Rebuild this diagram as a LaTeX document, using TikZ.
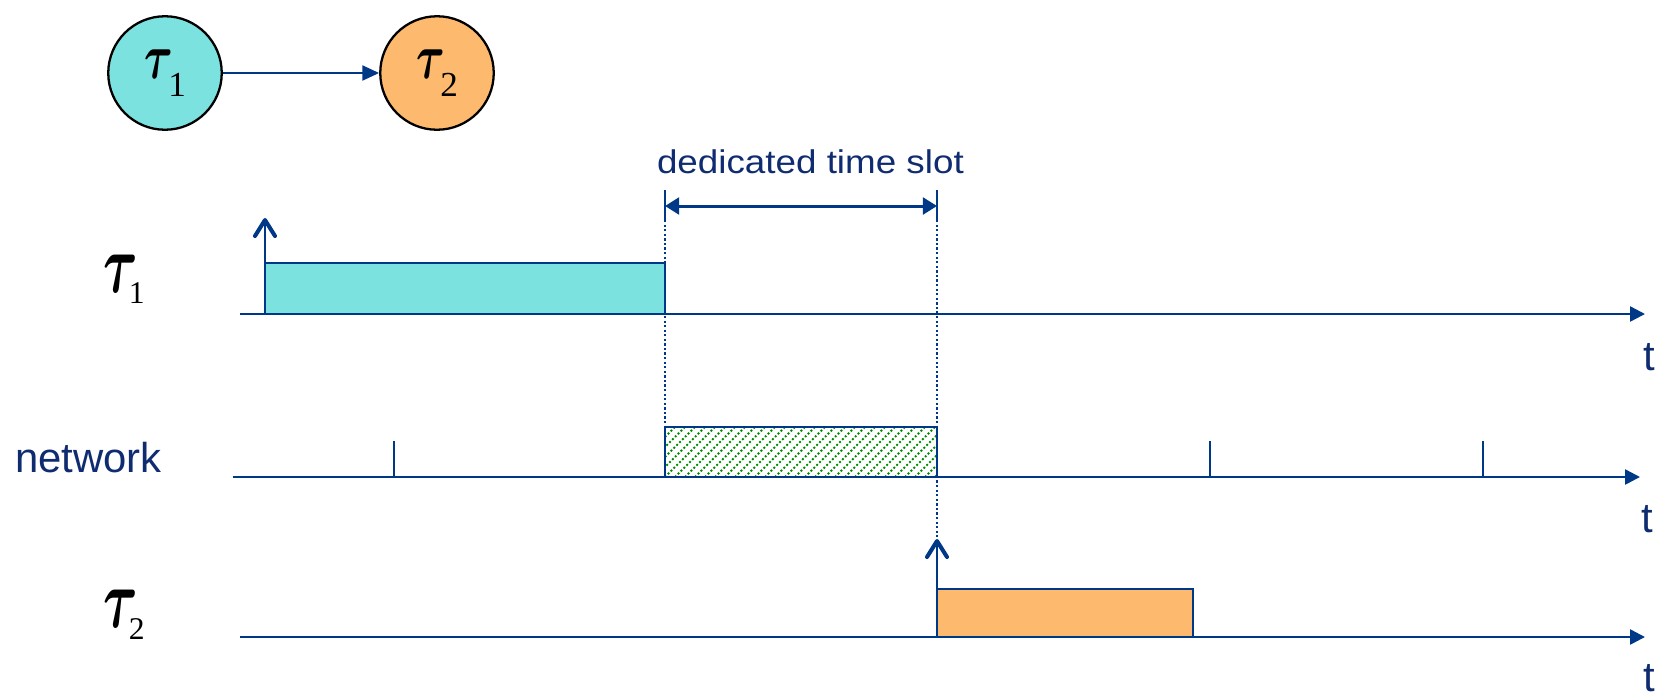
\RequirePackage{fix-cm}
\documentclass[tikz,border=0pt]{standalone}
\usepackage{amsmath}
\usepackage{graphicx}
\usepackage{fontspec}
\setmainfont{Liberation Sans}
\newfontfamily\serifT{Liberation Serif}
\newfontfamily\dedfont[FakeStretch=1.12]{Liberation Sans}
\usetikzlibrary{arrows.meta}
\definecolor{navy}{RGB}{0,56,136}
\definecolor{txtblue}{RGB}{16,44,112}
\definecolor{cyanfill}{RGB}{123,226,224}
\definecolor{orangefill}{RGB}{253,186,111}
\definecolor{hatchgreen}{RGB}{0,140,0}
% #1 index, #2 tau size, #3 sub size, #4 sub drop, #5 kern, #6 xscale, #7 yscale
\newcommand{\taulab}[7]{{\fontsize{#2}{#2}\selectfont\scalebox{#6}[#7]{$\boldsymbol{\tau}$}}\kern#5\raisebox{#4}{\serifT\fontsize{#3}{#3}\selectfont #1}}
\begin{document}
\begin{tikzpicture}[x=0.02cm, y=-0.02cm,
  axis/.style={navy, line width=1.4pt, -{Triangle[length=8.5pt,width=8.5pt]}},
  release/.style={navy, line width=1.1pt},
  releasehead/.style={navy, line width=2.3pt, line cap=round, line join=round},
  guide/.style={navy, line width=1.2pt, dash pattern=on 1.3pt off 1.3pt},
  guidesolid/.style={navy, line width=1.2pt},
  jobbox/.style={draw=navy, line width=1.6pt},
  tickmark/.style={navy, line width=1.4pt},
  hatchline/.style={hatchgreen, line width=1.1pt, dash pattern=on 1.1pt off 1.2pt},
  dimarrow/.style={navy, line width=1.7pt, {Triangle[length=8pt,width=9.5pt]}-{Triangle[length=8pt,width=9.5pt]}},
  lbl/.style={text=txtblue, inner sep=0, outer sep=0, font=\fontsize{23.8pt}{24pt}\selectfont},
  taulbl/.style={inner sep=0, outer sep=0, anchor=base west},
  taskcircle/.style={circle, draw=black, line width=1.3pt, minimum size=64.6pt, inner sep=0}]
\useasboundingbox (0,0) rectangle (1655,697);

% precedence graph
\node[taskcircle, fill=cyanfill] (c1) at (165,73) {\taulab{1}{32pt}{20pt}{-10pt}{-2.5pt}{0.78}{1.15}};
\node[taskcircle, fill=orangefill] (c2) at (437,73) {\taulab{2}{32pt}{20pt}{-10pt}{-2.5pt}{0.78}{1.15}};
\draw[navy, line width=1.2pt, -{Triangle[length=9.5pt,width=8.5pt]}] (c1) -- (c2);

% coordinates
\coordinate (a1s) at (240,314); \coordinate (a1e) at (1645,314);
\coordinate (a2s) at (233,477); \coordinate (a2e) at (1640,477);
\coordinate (a3s) at (240,637); \coordinate (a3e) at (1645,637);
\coordinate (gL0) at (665,190); \coordinate (gL1) at (665,220); \coordinate (gL2) at (665,427);
\coordinate (gR0) at (937,190); \coordinate (gR1) at (937,220); \coordinate (gR2) at (937,541);
\coordinate (dL) at (665,206); \coordinate (dR) at (937,206);
\coordinate (r1b) at (265,314); \coordinate (r1t) at (265,220);
\coordinate (r2b) at (937,637); \coordinate (r2t) at (937,541);

% guide lines
\draw[guidesolid] (gL0) -- (gL1);
\draw[guide] (gL1) -- (gL2);
\draw[guidesolid] (gR0) -- (gR1);
\draw[guide] (gR1) -- (gR2);
\draw[dimarrow] (dL) -- (dR);
\node[lbl, anchor=base west, font=\dedfont\fontsize{18.7pt}{19pt}\selectfont] (ded) at (657,173) {dedicated time slot};

% task 1 timeline
\draw[jobbox, fill=cyanfill] (265,263) rectangle (665,314);
\draw[release] (r1b) -- (r1t);
\draw[releasehead] (r1t) +(-10,16) -- (r1t) -- +(10,16);
\draw[axis] (a1s) -- (a1e);

% network timeline
\begin{scope}
\clip (665,427) rectangle (937,477);
\foreach \x in {585,595,...,945} \draw[hatchline] (\x,477) -- ++(50,-50);
\end{scope}
\draw[jobbox] (665,427) rectangle (937,477);
\draw[tickmark] (394,441) -- (394,477);
\draw[tickmark] (1210,441) -- (1210,477);
\draw[tickmark] (1483,441) -- (1483,477);
\draw[axis] (a2s) -- (a2e);

% task 2 timeline
\draw[jobbox, fill=orangefill] (937,589) rectangle (1193,637);
\draw[release] (r2b) -- (r2t);
\draw[releasehead] (r2t) +(-10,16) -- (r2t) -- +(10,16);
\draw[axis] (a3s) -- (a3e);

% labels
\node[taulbl] (l1) at (103,292) {\taulab{1}{40pt}{18pt}{-6.5pt}{-5pt}{0.75}{1.2}};
\node[taulbl] (l2) at (103,627) {\taulab{2}{40pt}{18pt}{-7pt}{-5pt}{0.75}{1.2}};
\node[lbl, anchor=base west] (net) at (15,472) {network};
\node[lbl, anchor=base west] (t1) at (1643,370) {t};
\node[lbl, anchor=base west] (t2) at (1641,532) {t};
\node[lbl, anchor=base west] (t3) at (1643,691) {t};
\end{tikzpicture}
\end{document}
